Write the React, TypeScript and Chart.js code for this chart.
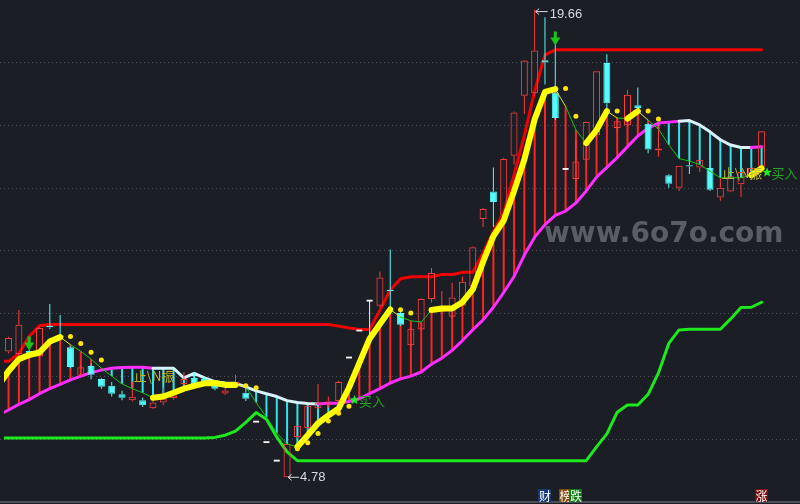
import React, { useEffect, useRef } from "react";
import { Chart, registerables } from "chart.js";

Chart.register(...registerables);

// Candle index 0 is the session that is cut off at the left edge.
const openP = [8.40,
  8.78, 8.70, 8.80, 8.62, 9.60, 9.30, 8.92, 8.02, 8.32, 7.91,
  7.69, 7.42, 7.23, 7.23, 6.98, 7.16, 7.30, 7.75, 7.94, 7.91,
  7.78, 7.45, 7.73, 7.47, 6.55, 5.90, 5.31, 4.78, 6.06, 6.35,
  6.98, 7.09, 7.21, 8.59, 9.45, 10.40, 10.24, 10.75, 10.01, 8.98,
  9.48, 10.45, 10.05, 9.89, 10.24, 10.86, 13.00, 13.87, 13.11, 15.01,
  16.92, 17.00, 18.05, 17.02, 14.59, 14.27, 14.88, 15.66, 17.96, 15.89,
  15.98, 16.62, 16.03, 15.18, 14.39, 13.99, 14.71, 14.64, 14.62, 13.68,
  13.87, 14.10, 14.45, 14.67];
const highP = [8.60,
  9.25, 10.10, 8.85, 9.56, 10.29, 9.94, 8.95, 8.35, 8.40, 7.93,
  7.81, 7.53, 7.82, 7.31, 7.31, 7.63, 7.45, 8.13, 8.12, 7.97,
  7.82, 7.65, 8.04, 7.63, 6.55, 5.90, 5.31, 5.84, 6.42, 7.06,
  7.75, 7.35, 7.85, 8.59, 9.45, 10.40, 11.33, 12.03, 10.05, 9.55,
  10.48, 11.44, 10.71, 10.97, 11.16, 12.12, 13.35, 14.64, 14.95, 16.42,
  18.06, 19.66, 19.42, 18.55, 14.59, 15.51, 16.10, 17.70, 18.24, 16.24,
  17.10, 17.18, 16.05, 15.98, 14.42, 14.69, 14.88, 14.88, 14.62, 14.31,
  14.36, 14.49, 14.64, 15.79];
const lowP = [8.30,
  8.72, 8.65, 8.65, 8.60, 9.50, 9.15, 8.25, 8.00, 7.90, 7.60,
  7.35, 7.23, 7.19, 7.02, 6.95, 7.07, 7.25, 7.68, 7.70, 7.72,
  7.55, 7.40, 7.63, 7.21, 6.55, 5.90, 5.31, 4.78, 6.00, 6.30,
  6.95, 7.00, 7.18, 8.59, 9.45, 9.19, 10.20, 10.13, 9.60, 8.95,
  9.45, 10.34, 10.00, 9.85, 10.20, 10.80, 12.74, 12.74, 13.05, 14.73,
  16.34, 16.90, 17.28, 16.15, 14.59, 14.20, 14.85, 15.60, 16.39, 15.77,
  15.95, 16.50, 15.09, 14.98, 13.99, 13.89, 14.43, 14.49, 13.89, 13.58,
  13.85, 13.70, 14.40, 14.60];
const closeP = [8.55,
  9.21, 9.63, 8.69, 9.53, 9.55, 9.22, 8.29, 8.28, 8.04, 7.66,
  7.44, 7.31, 7.34, 7.07, 7.16, 7.29, 7.38, 7.91, 7.73, 7.82,
  7.60, 7.54, 7.81, 7.28, 6.55, 5.90, 5.31, 5.84, 6.42, 7.06,
  7.16, 7.19, 7.81, 8.59, 9.45, 10.40, 11.14, 10.70, 9.63, 9.51,
  10.45, 11.28, 10.22, 10.50, 11.00, 12.10, 13.32, 13.54, 14.91, 16.39,
  18.04, 18.36, 17.98, 16.21, 14.59, 14.83, 16.08, 17.70, 16.68, 16.11,
  16.95, 16.53, 15.21, 15.24, 14.12, 14.69, 14.67, 14.88, 13.93, 13.99,
  14.36, 14.49, 14.62, 15.79];

const trendLine = [7.69,
  8.16, 8.54, 8.67, 8.75, 9.10, 9.24, 9.00, 8.79, 8.54, 8.25,
  8.00, 7.75, 7.60, 7.47, 7.31, 7.35, 7.47, 7.60, 7.69, 7.77,
  7.78, 7.72, 7.72, 7.66, 7.16, 6.69, 6.19, 5.84, 5.75, 6.12,
  6.50, 6.75, 6.97, 7.63, 8.41, 9.19, 9.66, 10.12, 9.88, 9.76,
  9.72, 10.10, 10.15, 10.15, 10.35, 10.76, 11.64, 12.45, 12.95, 13.89,
  14.89, 16.17, 17.04, 17.13, 16.58, 15.83, 15.41, 15.83, 16.43, 16.21,
  16.19, 16.43, 16.14, 15.86, 15.36, 14.92, 14.84, 14.73, 14.52, 14.31,
  14.31, 14.31, 14.39, 14.61];
const supportLine = [6.75,
  6.92, 7.10, 7.25, 7.44, 7.60, 7.74, 7.88, 8.00, 8.11, 8.19,
  8.25, 8.27, 8.28, 8.28, 8.25, 8.25, 8.25, 7.94, 8.09, 7.94,
  7.82, 7.78, 7.77, 7.66, 7.53, 7.44, 7.35, 7.22, 7.16, 7.13,
  7.11, 7.14, 7.14, 7.19, 7.28, 7.44, 7.60, 7.78, 7.91, 8.00,
  8.13, 8.38, 8.57, 8.82, 9.13, 9.47, 9.79, 10.19, 10.66, 11.17,
  11.85, 12.42, 12.82, 13.11, 13.25, 13.51, 13.89, 14.33, 14.64, 14.95,
  15.30, 15.64, 15.89, 16.05, 16.08, 16.11, 16.13, 15.99, 15.77, 15.52,
  15.35, 15.27, 15.27, 15.30];
const resistanceLine = [8.47,
  8.47, 8.72, 9.26, 9.60, 9.64, 9.64, 9.64, 9.64, 9.64, 9.64,
  9.64, 9.64, 9.64, 9.64, 9.64, 9.64, 9.64, 9.64, 9.64, 9.64,
  9.64, 9.64, 9.64, 9.64, 9.64, 9.64, 9.64, 9.64, 9.64, 9.64,
  9.64, 9.64, 9.59, 9.53, 9.48, 9.48, 10.10, 10.74, 11.10, 11.16,
  11.16, 11.16, 11.23, 11.23, 11.30, 11.30, 11.92, 12.60, 13.20, 14.40,
  15.65, 17.07, 18.22, 18.38, 18.38, 18.38, 18.38, 18.38, 18.38, 18.38,
  18.38, 18.38, 18.38, 18.38, 18.38, 18.38, 18.38, 18.38, 18.38, 18.38,
  18.38, 18.38, 18.38, 18.38];
const bottomLine = [6.03,
  6.03, 6.03, 6.03, 6.03, 6.03, 6.03, 6.03, 6.03, 6.03, 6.03,
  6.03, 6.03, 6.03, 6.03, 6.03, 6.03, 6.03, 6.03, 6.03, 6.03,
  6.05, 6.12, 6.25, 6.53, 6.84, 6.63, 6.06, 5.59, 5.31, 5.31,
  5.31, 5.31, 5.31, 5.31, 5.31, 5.31, 5.31, 5.31, 5.31, 5.31,
  5.31, 5.31, 5.31, 5.31, 5.31, 5.31, 5.31, 5.31, 5.31, 5.31,
  5.31, 5.31, 5.31, 5.31, 5.31, 5.31, 5.31, 5.75, 6.16, 6.85,
  7.08, 7.08, 7.42, 8.10, 9.04, 9.47, 9.49, 9.49, 9.49, 9.49,
  9.82, 10.18, 10.19, 10.35];

const dotIdx = [7, 8, 9, 10, 24, 25, 29, 30, 31, 32, 33, 34, 39, 40, 55, 56, 60, 63, 64];
const dotPrice = [9.26, 9.04, 8.76, 8.51, 7.69, 7.63, 5.69, 5.88, 6.17, 6.57, 6.82, 7.04, 10.11, 10.01, 17.15, 16.27, 16.43, 16.43, 16.18];

const thickRanges = [[0, 6], [15, 23], [29, 38], [42, 54], [57, 59], [61, 62], [73, 74]];
const lightRanges = [[15, 31], [66, 73]];
const gridPrices = [6, 8, 10, 12, 14, 16, 18];

const arrowIdx = [3, 54];
const buyIdx = [34, 74];
const buyPrice = [7.24, 14.48];
const buyText = "买入";
const tagIdx = [13, 70];
const tagPrice = [8.0, 14.46];
const tagText = "止\\N振";
const badgeIdx = [53, 55, 56, 74];
const badgeText = ["财", "榜", "跌", "涨"];
const badgeColor = ["#173a73", "#8a4a0d", "#0d7a12", "#7c0b0b"];
const watermark = "www.6o7o.com";

const BG = "#1b1e25";
const RED = "#ff3b3b";
const CYAN = "#54fcfc";
const WHITE = "#f0f0f0";

const inRange = (ranges: number[][], j: number) => ranges.some(([a, b]) => j >= a && j <= b);
const segIn = (ranges: number[][], p0: number, p1: number) => ranges.some(([a, b]) => p0 >= a && p1 <= b);

export default function App() {
  const ref = useRef<HTMLCanvasElement>(null);

  useEffect(() => {
    const canvas = ref.current;
    if (!canvas) return;
    const n = closeP.length;
    const isFlat = (j: number) => openP[j] === closeP[j];
    const isUp = (j: number) => closeP[j] > openP[j];
    const cColor = (j: number) => (isFlat(j) ? WHITE : isUp(j) ? RED : CYAN);

    const bodyData: any[] = [], bodyFill: string[] = [], bodyStroke: string[] = [];
    const flatData: any[] = [];
    const wickData: any[] = [], wickColor: string[] = [];
    const histData: any[] = [], histColor: string[] = [];
    for (let j = 0; j < n; j++) {
      const o = openP[j], c = closeP[j], h = highP[j], l = lowP[j];
      const col = cColor(j);
      if (isFlat(j)) {
        flatData.push({ x: j, y: [c - 0.03, c + 0.03] });
      } else {
        bodyData.push({ x: j, y: [o, c] });
        bodyFill.push(isUp(j) ? "rgba(0,0,0,0)" : col);
        bodyStroke.push(col);
      }
      const top = Math.max(o, c), bot = Math.min(o, c);
      if (h > top) { wickData.push({ x: j, y: [top, h] }); wickColor.push(col); }
      if (l < bot) { wickData.push({ x: j, y: [l, bot] }); wickColor.push(col); }
      histData.push({ x: j, y: [trendLine[j], supportLine[j]] });
      histColor.push(trendLine[j] >= supportLine[j] ? "#ff2424" : "#2fe4ee");
    }
    const pts = (arr: number[]) => arr.map((v, j) => ({ x: j, y: v }));
    const thickData = trendLine.map((v, j) => ({ x: j, y: inRange(thickRanges, j) ? v : null }));
    const dots = dotIdx.map((j, k) => ({ x: j, y: dotPrice[k] }));

    const barBase = { type: "bar", grouped: false, borderSkipped: false, inflateAmount: 0 };
    const lineBase = { type: "line", pointRadius: 0, tension: 0, borderJoinStyle: "round", borderCapStyle: "round", fill: false };

    const drawStar = (ctx: CanvasRenderingContext2D, cx: number, cy: number, R: number, r: number) => {
      ctx.beginPath();
      for (let k = 0; k < 10; k++) {
        const rad = k % 2 === 0 ? R : r;
        const ang = -Math.PI / 2 + (k * Math.PI) / 5;
        const px = cx + rad * Math.cos(ang), py = cy + rad * Math.sin(ang);
        if (k === 0) ctx.moveTo(px, py); else ctx.lineTo(px, py);
      }
      ctx.closePath();
      ctx.fill();
    };

    const decor = {
      id: "decor",
      beforeDraw(chart: any) {
        const { ctx, width, height } = chart;
        ctx.save();
        ctx.fillStyle = BG;
        ctx.fillRect(0, 0, width, height);
        ctx.restore();
      },
      beforeDatasetsDraw(chart: any) {
        const { ctx } = chart;
        const ys = chart.scales.y;
        ctx.save();
        ctx.strokeStyle = "#4d525e";
        ctx.lineWidth = 1;
        ctx.setLineDash([1, 3]);
        gridPrices.forEach((p) => {
          const y = Math.round(ys.getPixelForValue(p)) + 0.5;
          ctx.beginPath();
          ctx.moveTo(0, y);
          ctx.lineTo(800, y);
          ctx.stroke();
        });
        ctx.setLineDash([]);
        ctx.fillStyle = "#4a4e59";
        ctx.fillRect(0, 501, 800, 2);
        ctx.font = "bold 28px 'DejaVu Sans'";
        ctx.fillStyle = "#5a5d64";
        ctx.textBaseline = "alphabetic";
        ctx.fillText(watermark, 544, 242);
        ctx.restore();
      },
      afterDatasetsDraw(chart: any) {
        const { ctx } = chart;
        const xs = chart.scales.x, ys = chart.scales.y;
        ctx.save();
        let jHi = 0, jLo = 0;
        highP.forEach((v, j) => { if (v > highP[jHi]) jHi = j; });
        lowP.forEach((v, j) => { if (v < lowP[jLo]) jLo = j; });
        const leftArrow = (x: number, y: number, len: number) => {
          ctx.beginPath();
          ctx.moveTo(x, y); ctx.lineTo(x + len, y);
          ctx.moveTo(x + 3.5, y - 3); ctx.lineTo(x, y); ctx.lineTo(x + 3.5, y + 3);
          ctx.stroke();
        };
        ctx.strokeStyle = "#d5d9e0";
        ctx.fillStyle = "#d5d9e0";
        ctx.lineWidth = 1;
        ctx.font = "13px 'Liberation Sans'";
        ctx.textBaseline = "middle";
        const hx = xs.getPixelForValue(jHi), hy = ys.getPixelForValue(highP[jHi]);
        leftArrow(hx + 1, hy + 2, 12);
        ctx.fillText(highP[jHi].toFixed(2), hx + 15, hy + 5);
        const lx = xs.getPixelForValue(jLo), ly = ys.getPixelForValue(lowP[jLo]);
        leftArrow(lx + 1, ly, 11);
        ctx.fillText(lowP[jLo].toFixed(2), lx + 13, ly);

        // green down arrows
        ctx.fillStyle = "#1cc41c";
        arrowIdx.forEach((j) => {
          const x = xs.getPixelForValue(j);
          const tip = ys.getPixelForValue(highP[j]) + 1;
          ctx.fillRect(x - 1.5, tip - 14, 3, 7);
          ctx.beginPath();
          ctx.moveTo(x - 5, tip - 8);
          ctx.lineTo(x + 5, tip - 8);
          ctx.lineTo(x, tip);
          ctx.closePath();
          ctx.fill();
        });

        // tags
        ctx.font = "13px 'Noto Sans CJK SC'";
        ctx.fillStyle = "#bdb52c";
        tagIdx.forEach((j, k) => {
          ctx.fillText(tagText, xs.getPixelForValue(j) + 1.5, ys.getPixelForValue(tagPrice[k]));
        });

        // buy signals
        buyIdx.forEach((j, k) => {
          const x = xs.getPixelForValue(j) + 5.5;
          const y = ys.getPixelForValue(buyPrice[k]);
          ctx.fillStyle = "#22ee22";
          drawStar(ctx, x, y, 5, 2.2);
          ctx.fillStyle = "#22a522";
          ctx.font = "13px 'Noto Sans CJK SC'";
          ctx.fillText(buyText, x + 4.5, y + 1);
        });

        // badges
        ctx.font = "12px 'Noto Sans CJK SC'";
        ctx.textAlign = "center";
        badgeIdx.forEach((j, k) => {
          const x = xs.getPixelForValue(j);
          ctx.fillStyle = badgeColor[k];
          ctx.fillRect(Math.round(x - 6.5), 489, 13, 13);
          ctx.fillStyle = "#ffffff";
          ctx.fillText(badgeText[k], x, 496);
        });
        ctx.restore();
      },
    };

    const chart = new Chart(canvas, {
      type: "bar",
      data: {
        datasets: [
          { ...barBase, order: 9, data: histData, backgroundColor: histColor, borderWidth: 0, barThickness: 2 },
          { ...lineBase, order: 8, data: pts(bottomLine), borderColor: "#1ee81e", borderWidth: 3 },
          {
            ...lineBase, order: 7, data: pts(supportLine), borderColor: "#ff2dff", borderWidth: 3,
            segment: { borderColor: (c: any) => (lightRanges.some(([a, b]) => c.p0DataIndex >= a && c.p0DataIndex < b) ? "#d6f3ff" : undefined) },
          },
          { ...lineBase, order: 6, data: pts(resistanceLine), borderColor: "#f20000", borderWidth: 3 },
          { ...barBase, order: 5, data: wickData, backgroundColor: wickColor, borderWidth: 0, barThickness: 1 },
          { ...barBase, order: 4, data: bodyData, backgroundColor: bodyFill, borderColor: bodyStroke, borderWidth: 1, barThickness: 7 },
          { ...barBase, order: 4, data: flatData, backgroundColor: WHITE, borderWidth: 0, barThickness: 6 },
          {
            ...lineBase, order: 3, data: pts(trendLine), borderColor: "#16c416", borderWidth: 1,
            segment: {
              borderColor: (c: any) => {
                const a = c.p0DataIndex, b = c.p1DataIndex;
                if (segIn(thickRanges, a, b)) return undefined;
                return inRange(thickRanges, a) ? "#e6e600" : undefined;
              },
            },
          },
          { ...lineBase, order: 2, data: thickData, borderColor: "#ffff00", borderWidth: 6, spanGaps: false },
          { type: "line", order: 1, data: dots, showLine: false, pointRadius: 2.5, pointBackgroundColor: "#ffe600", pointBorderWidth: 0 },
        ] as any,
      },
      options: {
        responsive: false,
        maintainAspectRatio: false,
        animation: false,
        devicePixelRatio: 1,
        events: [],
        layout: { padding: 0 },
        plugins: { legend: { display: false }, tooltip: { enabled: false } },
        scales: {
          x: { type: "linear", min: 0.5585, max: 77.334, display: false, offset: false },
          y: { type: "linear", min: 4.058, max: 19.838, display: false },
        },
      } as any,
      plugins: [decor],
    });
    return () => chart.destroy();
  }, []);

  return (
    <div style={{ position: "fixed", left: 0, top: 0, width: 800, height: 504, background: BG }}>
      <canvas ref={ref} width={800} height={504} style={{ display: "block" }} />
    </div>
  );
}
